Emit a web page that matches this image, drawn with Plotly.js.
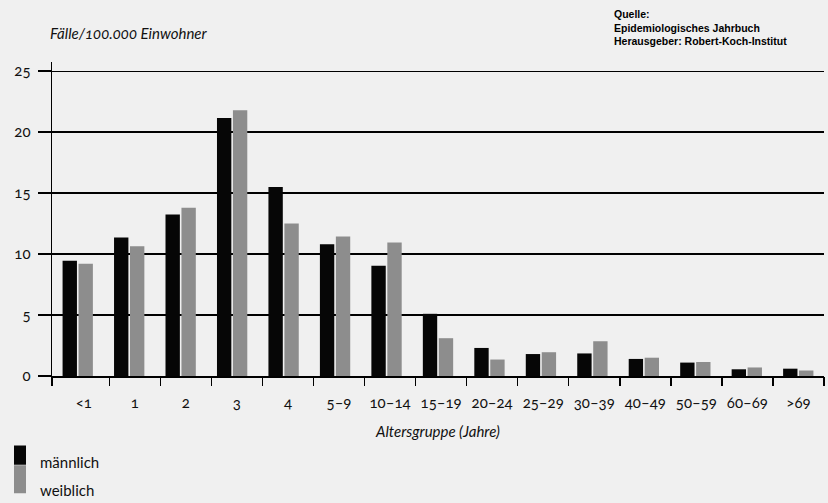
<!DOCTYPE html>
<html>
<head>
<meta charset="utf-8">
<script src="https://cdn.plot.ly/plotly-3.0.1.min.js"></script>
<style>
  html, body { margin: 0; padding: 0; background: #f0f0f0; }
  #chart { width: 828px; height: 503px; }
  .main-svg text { font-feature-settings: "onum" 1; }
</style>
</head>
<body>
<div id="chart"></div>
<script>
const categories = ['<1', '1', '2', '3', '4', '5–9', '10–14', '15–19', '20–24', '25–29', '30–39', '40–49', '50–59', '60–69', '>69'];
const maennlich = [9.45, 11.35, 13.25, 21.15, 15.5, 10.8, 9.05, 5.1, 2.3, 1.8, 1.85, 1.4, 1.1, 0.55, 0.6];
const weiblich = [9.2, 10.65, 13.8, 21.8, 12.5, 11.45, 10.95, 3.1, 1.35, 1.95, 2.85, 1.5, 1.15, 0.7, 0.45];
const yTickVals = [0, 5, 10, 15, 20, 25];
const yTickText = ['0', '5', '10', '15', '20', '25'];
const seriesNames = ['männlich', 'weiblich'];
const axisTitleY = 'Fälle/100.000 Einwohner';
const axisTitleX = 'Altersgruppe (Jahre)';
const sourceLines = ['Quelle:', 'Epidemiologisches Jahrbuch', 'Herausgeber: Robert-Koch-Institut'];

const FONT = 'Lato, "Open Sans", sans-serif';
const INK = '#111111';

// label / tick axis (slightly different scale than the bar groups, as in the print)
const tickRange = [-0.622, 14.5];
const boundaries = [tickRange[0]].concat(categories.map((c, i) => i + 0.5));
const labelPos = categories.map((c, i) => i);

const data = [
  {
    type: 'bar', x: categories, y: maennlich, name: seriesNames[0],
    marker: { color: '#060606', line: { width: 0 } },
    legendgroup: 'm', hoverinfo: 'x+y'
  },
  {
    type: 'bar', x: categories, y: weiblich, name: seriesNames[1],
    marker: { color: '#8d8d8d', line: { width: 0 } },
    legendgroup: 'w', hoverinfo: 'x+y'
  },
  // invisible carriers so the tick-mark axis and the label axis get drawn
  {
    type: 'scatter', x: labelPos, y: maennlich, xaxis: 'x2', yaxis: 'y',
    mode: 'none', showlegend: false, hoverinfo: 'skip'
  },
  {
    type: 'scatter', x: labelPos, y: weiblich, xaxis: 'x3', yaxis: 'y',
    mode: 'none', showlegend: false, hoverinfo: 'skip'
  }
];

const layout = {
  width: 828, height: 503,
  paper_bgcolor: '#f0f0f0', plot_bgcolor: '#f0f0f0',
  margin: { l: 52, r: 4, t: 62, b: 127, pad: 0, autoexpand: false },
  font: { family: FONT, color: INK, size: 15 },
  barmode: 'group', bargap: 0.38, bargroupgap: 0.1,
  showlegend: true,
  title: {
    text: axisTitleY,
    font: { family: FONT, size: 15, style: 'italic', color: INK },
    x: 50 / 828, xref: 'container', xanchor: 'left',
    y: 1 - 34 / 503, yref: 'container', yanchor: 'middle'
  },
  xaxis: {
    type: 'category', range: [-0.5, 14.5], fixedrange: true, automargin: false,
    showticklabels: false, ticks: '', showgrid: false, zeroline: false,
    showline: true, linecolor: '#000', linewidth: 1.5
  },
  xaxis2: {
    overlaying: 'x', anchor: 'y', side: 'bottom', range: tickRange, fixedrange: true, automargin: false,
    tickmode: 'array', tickvals: boundaries, ticks: 'outside', ticklen: 9,
    tickwidth: 1.5, tickcolor: '#000', showticklabels: false,
    showgrid: false, zeroline: false, showline: false
  },
  xaxis3: {
    overlaying: 'x', anchor: 'y', side: 'bottom', range: tickRange, fixedrange: true, automargin: false,
    tickmode: 'array', tickvals: labelPos, ticktext: categories, ticks: '',
    ticklabelstandoff: 16,
    tickfont: { family: FONT, size: 15, color: INK },
    showgrid: false, zeroline: false, showline: false,
    title: { text: axisTitleX, font: { family: FONT, size: 15, style: 'italic', color: INK }, standoff: 16 }
  },
  yaxis: {
    range: [0, 25.75], fixedrange: true, automargin: false,
    tickmode: 'array', tickvals: yTickVals, ticktext: yTickText,
    ticks: 'outside', ticklen: 13, tickwidth: 1.5, tickcolor: '#000',
    ticklabelstandoff: 4,
    tickfont: { family: FONT, size: 15, color: INK },
    showgrid: true, gridcolor: '#000', gridwidth: 1.3,
    showline: true, linecolor: '#000', linewidth: 1.5, zeroline: false
  },
  legend: {
    x: 0, xref: 'container', xanchor: 'left',
    y: 1 - 445.5 / 503, yref: 'container', yanchor: 'top',
    orientation: 'v', traceorder: 'grouped', tracegroupgap: 6,
    bgcolor: 'rgba(0,0,0,0)', borderwidth: 0,
    font: { family: FONT, size: 15, color: INK }
  },
  annotations: [{
    text: sourceLines.map(s => '<b>' + s + '</b>').join('<br>'),
    xref: 'paper', yref: 'paper', x: (612 - 52) / 772, y: 1 + (62 - 6) / 314,
    xanchor: 'left', yanchor: 'top', align: 'left', showarrow: false,
    font: { family: '"Liberation Sans", Arial, sans-serif', size: 10.5, color: '#000' }
  }]
};

const gd = document.getElementById('chart');
function tallLegendSymbols() {
  gd.querySelectorAll('.legend .legendpoints path').forEach(p => {
    p.setAttribute('d', 'M6,3H-6V-25H6Z');
  });
}
Plotly.newPlot(gd, data, layout, { displayModeBar: false, staticPlot: true }).then(() => {
  tallLegendSymbols();
  gd.on('plotly_afterplot', tallLegendSymbols);
});
</script>
</body>
</html>
